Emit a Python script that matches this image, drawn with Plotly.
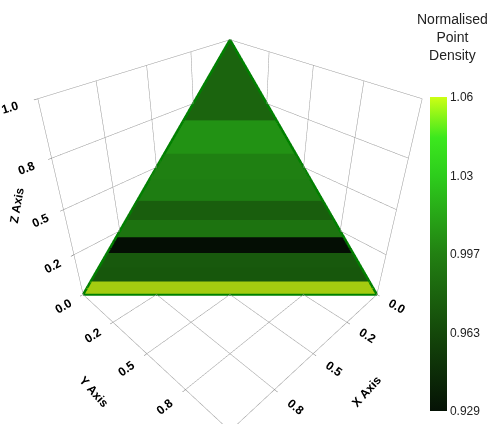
import plotly.graph_objects as go

# ---- data ----
band_edges = [0.0, 0.051, 0.106, 0.163, 0.225, 0.293, 0.368, 0.452, 0.553, 0.684, 1.0]   # z bounds of bands
band_density = [1.0637, 0.985, 0.986, 0.9288, 1.003, 0.990, 1.009, 1.010, 1.020, 0.995]  # bottom -> top
axis_tickvals = [0.0, 0.25, 0.5, 0.75, 1.0]
axis_ticktext = ["0.0", "0.2", "0.5", "0.8", "1.0"]
cbar_tickvals = [0.9288, 0.9625, 0.9963, 1.0300, 1.0637]
cbar_ticktext = ["0.929", "0.963", "0.997", "1.03", "1.06"]
corner_x = [1, 0, 0, 1]
corner_y = [0, 1, 0, 0]
corner_z = [0, 0, 1, 0]

colorscale = [
    [0.0, "rgb(5,18,5)"],
    [0.25, "rgb(20,72,10)"],
    [0.5, "rgb(34,128,18)"],
    [0.75, "rgb(45,205,28)"],
    [0.87, "rgb(60,232,30)"],
    [1.0, "rgb(205,255,20)"],
]

# ---- build banded triangle mesh in plane x+y+z=1 ----
xs, ys, zs, ii, jj, kk, inten = [], [], [], [], [], [], []
for b in range(len(band_density)):
    z0, z1 = band_edges[b], band_edges[b + 1]
    n = len(xs)
    xs += [1 - z0, 0, 0, 1 - z1]
    ys += [0, 1 - z0, 1 - z1, 0]
    zs += [z0, z0, z1, z1]
    ii += [n, n]
    jj += [n + 1, n + 2]
    kk += [n + 2, n + 3]
    inten += [band_density[b], band_density[b]]

FONT = "Liberation Sans"

fig = go.Figure()
fig.add_trace(go.Mesh3d(
    x=xs, y=ys, z=zs, i=ii, j=jj, k=kk,
    intensity=inten, intensitymode="cell",
    colorscale=colorscale, cmin=cbar_tickvals[0], cmax=cbar_tickvals[-1],
    flatshading=True,
    lighting=dict(ambient=0.8, diffuse=0.0, specular=0.0, fresnel=0.0, roughness=1.0),
    hoverinfo="skip",
    colorbar=dict(
        x=430 / 496, xanchor="left", y=1 - 254 / 424, yanchor="middle",
        len=314 / 424, lenmode="fraction", thickness=17,
        outlinewidth=0, tickvals=cbar_tickvals, ticktext=cbar_ticktext,
        ticks="", tickfont=dict(family=FONT, size=12, color="#222222"),
        xpad=0, ypad=0,
    ),
))
fig.add_trace(go.Scatter3d(
    x=corner_x, y=corner_y, z=corner_z, mode="lines",
    line=dict(color="rgb(0,128,0)", width=5),
    hoverinfo="skip", showlegend=False,
))

axis_common = dict(
    range=[0, 1], tickvals=axis_tickvals, ticktext=axis_ticktext,
    showbackground=False, gridcolor="rgb(150,150,150)", gridwidth=1,
    zeroline=False, showspikes=False, ticks="outside", ticklen=3,
    tickcolor="rgb(120,120,120)",
    tickfont=dict(family=FONT, size=12, color="black", weight="bold"),
    showline=True, linecolor="rgb(150,150,150)",
)
title_font = dict(family=FONT, size=12, color="black", weight="bold")
fig.update_layout(
    width=496, height=424,
    margin=dict(l=0, r=0, t=0, b=0),
    paper_bgcolor="white",
    showlegend=False,
    scene=dict(
        domain=dict(x=[0.0, 0.928], y=[0.0, 1.0]),
        aspectmode="cube",
        xaxis=dict(title=dict(text="X Axis", font=title_font), **axis_common),
        yaxis=dict(title=dict(text="Y Axis", font=title_font), **axis_common),
        zaxis=dict(title=dict(text=""), **axis_common),
        camera=dict(eye=dict(x=1.255, y=1.255, z=1.255),
                    center=dict(x=0.004, y=0.004, z=-0.008),
                    up=dict(x=0, y=0, z=1)),
        annotations=[dict(
            x=1.0, y=0.0, z=0.5, text="Z Axis", showarrow=False,
            textangle=-80, font=title_font, xshift=-47, yshift=4,
        )],
    ),
    annotations=[dict(
        text="Normalised<br>Point<br>Density", x=452 / 496, y=1 - 9 / 424,
        xref="paper", yref="paper",
        showarrow=False, align="center", xanchor="center", yanchor="top",
        font=dict(family=FONT, size=14, color="#222222"),
    )],
)
fig.write_html("out.html", config={"displayModeBar": False},
               post_script="document.body.style.margin='0';")
